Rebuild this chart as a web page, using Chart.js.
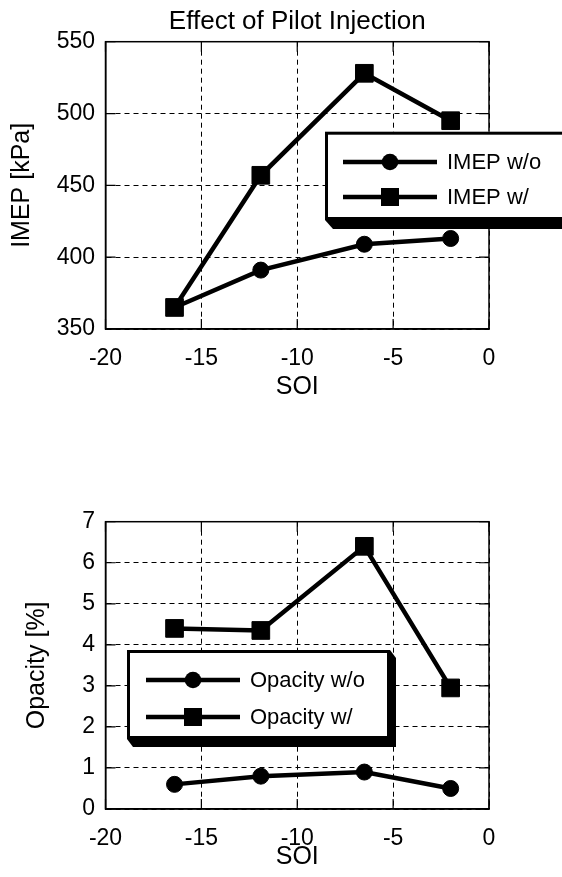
<!DOCTYPE html>
<html><head><meta charset="utf-8">
<script src="https://cdn.jsdelivr.net/npm/chart.js@4/dist/chart.umd.min.js"></script>
<style>
html,body{margin:0;padding:0;background:#fff;}
#wrap{position:relative;width:562px;height:877px;overflow:hidden;}
canvas{position:absolute;left:0;}
</style></head><body>
<div id="wrap">
<canvas id="c1" width="562" height="440" style="top:0px"></canvas>
<canvas id="c2" width="562" height="437" style="top:440px"></canvas>
</div>
<script>
// ---- data ----
const soi = [-16.4, -11.9, -6.5, -2.0];
const imepWithout = [365, 391, 409, 413];
const imepWith = [365, 457, 528, 495];
const opacityWithout = [0.6, 0.8, 0.9, 0.5];
const opacityWith = [4.4, 4.35, 6.4, 2.95];
const xTicks = [-20, -15, -10, -5, 0];
const imepTicks = [350, 400, 450, 500, 550];
const opacityTicks = [0, 1, 2, 3, 4, 5, 6, 7];
const titleText = 'Effect of Pilot Injection';
const xTitle = 'SOI';
const imepTitle = 'IMEP [kPa]';
const opacityTitle = 'Opacity [%]';
const imepLabels = ['IMEP w/o', 'IMEP w/'];
const opacityLabels = ['Opacity w/o', 'Opacity w/'];

const FONT = '"Liberation Sans", Arial, Helvetica, sans-serif';
Chart.defaults.font.family = FONT;
Chart.defaults.color = '#000';

function pts(xs, ys) { return xs.map((x, i) => ({x: x, y: ys[i]})); }

function ds(label, values, style) {
  return {
    label: label,
    data: pts(soi, values),
    borderColor: '#000',
    backgroundColor: '#000',
    borderWidth: 4.5,
    pointStyle: style,
    pointRadius: style === 'rect' ? 12.5 : 8,
    pointHoverRadius: style === 'rect' ? 12.5 : 8,
    pointBackgroundColor: '#000',
    pointBorderColor: '#000',
    pointBorderWidth: 1,
    tension: 0,
    clip: false
  };
}

const framePlugin = {
  id: 'frame',
  beforeDatasetsDraw(chart) {
    const {ctx, chartArea: a, scales} = chart;
    ctx.save();
    ctx.strokeStyle = '#000';
    ctx.setLineDash([]);
    ctx.lineWidth = 1.5;
    ctx.strokeRect(a.left, a.top, a.right - a.left, a.bottom - a.top);
    ctx.lineWidth = 1.2;
    const L = 10;
    ctx.beginPath();
    scales.x.ticks.forEach(t => {
      const px = scales.x.getPixelForValue(t.value);
      ctx.moveTo(px, a.bottom); ctx.lineTo(px, a.bottom - L);
      ctx.moveTo(px, a.top); ctx.lineTo(px, a.top + L);
    });
    scales.y.ticks.forEach(t => {
      const py = scales.y.getPixelForValue(t.value);
      ctx.moveTo(a.left, py); ctx.lineTo(a.left + L, py);
      ctx.moveTo(a.right, py); ctx.lineTo(a.right - L, py);
    });
    ctx.stroke();
    ctx.restore();
  }
};

const boxLegendPlugin = {
  id: 'boxLegend',
  afterDraw(chart, args, o) {
    const ctx = chart.ctx;
    const b = o.box;
    ctx.save();
    ctx.setLineDash([]);
    // 3D shadow
    ctx.fillStyle = '#000';
    ctx.beginPath();
    ctx.moveTo(b.left, b.bottom);
    ctx.lineTo(b.left + o.dx, b.bottom + o.dy);
    ctx.lineTo(b.right + o.dx, b.bottom + o.dy);
    ctx.lineTo(b.right + o.dx, b.top + o.dy);
    ctx.lineTo(b.right, b.top);
    ctx.closePath();
    ctx.fill();
    // box
    ctx.fillStyle = '#fff';
    ctx.fillRect(b.left, b.top, b.right - b.left, b.bottom - b.top);
    ctx.lineWidth = 3;
    ctx.strokeStyle = '#000';
    ctx.strokeRect(b.left + 1.5, b.top + 1.5, b.right - b.left - 3, b.bottom - b.top - 3);
    // entries
    chart.data.datasets.forEach((d, i) => {
      const y = o.rows[i];
      ctx.lineWidth = 4.5;
      ctx.strokeStyle = d.borderColor;
      ctx.beginPath();
      ctx.moveTo(o.lineX0, y); ctx.lineTo(o.lineX1, y);
      ctx.stroke();
      const mx = (o.lineX0 + o.lineX1) / 2;
      ctx.fillStyle = d.pointBackgroundColor;
      if (d.pointStyle === 'rect') {
        ctx.fillRect(mx - 9, y - 9, 18, 18);
      } else {
        ctx.beginPath(); ctx.arc(mx, y, 8.3, 0, Math.PI * 2); ctx.fill();
      }
      ctx.fillStyle = '#000';
      ctx.font = o.fontSize + 'px ' + FONT;
      ctx.textBaseline = 'middle';
      ctx.textAlign = 'left';
      ctx.fillText(d.label, o.textX, y + 1);
    });
    ctx.restore();
  }
};

function scalesFor(yTicks, yTitle, yTitlePad, xTitlePad, xHeight) {
  return {
    x: {
      type: 'linear',
      min: xTicks[0], max: xTicks[xTicks.length - 1],
      afterBuildTicks: s => { s.ticks = xTicks.map(v => ({value: v})); },
      afterFit: s => { s.height = xHeight; },
      grid: {color: '#000', lineWidth: 1, drawTicks: false},
      border: {display: true, color: '#000', width: 1.5, dash: [5, 4]},
      ticks: {font: {size: 23}, padding: 15.5, color: '#000', maxRotation: 0},
      title: {display: true, text: xTitle, font: {size: 25}, color: '#000', padding: {top: 0, bottom: xTitlePad}}
    },
    y: {
      type: 'linear',
      min: yTicks[0], max: yTicks[yTicks.length - 1],
      afterBuildTicks: s => { s.ticks = yTicks.map(v => ({value: v})); },
      afterFit: s => { s.width = 105.5; },
      grid: {color: '#000', lineWidth: 1, drawTicks: false},
      border: {display: true, color: '#000', width: 1.5, dash: [5, 4]},
      ticks: {font: {size: 23}, padding: 10.5, color: '#000'},
      title: {display: true, text: yTitle, font: {size: 25}, color: '#000', padding: {top: yTitlePad, bottom: 0}}
    }
  };
}

new Chart(document.getElementById('c1'), {
  type: 'line',
  data: {datasets: [ds(imepLabels[0], imepWithout, 'circle'), ds(imepLabels[1], imepWith, 'rect')]},
  options: {
    responsive: false, animation: false, events: [],
    layout: {padding: {left: 0, right: 73, top: 0, bottom: 0}},
    scales: scalesFor(imepTicks, imepTitle, 7, 38, 111),
    plugins: {
      legend: {display: false},
      tooltip: {enabled: false},
      title: {display: true, fullSize: false, align: 'center', text: titleText, color: '#000',
              font: {size: 26, weight: 'normal'}, padding: {top: 6, bottom: 4.5}},
      boxLegend: {
        box: {left: 325, top: 131.7, right: 600, bottom: 220},
        dx: 8, dy: 9,
        rows: [162, 197], lineX0: 343, lineX1: 437, textX: 447, fontSize: 22
      }
    }
  },
  plugins: [framePlugin, boxLegendPlugin]
});

new Chart(document.getElementById('c2'), {
  type: 'line',
  data: {datasets: [ds(opacityLabels[0], opacityWithout, 'circle'), ds(opacityLabels[1], opacityWith, 'rect')]},
  options: {
    responsive: false, animation: false, events: [],
    layout: {padding: {left: 0, right: 73, top: 81.7, bottom: 0}},
    scales: scalesFor(opacityTicks, opacityTitle, 22, 5, 68),
    plugins: {
      legend: {display: false},
      tooltip: {enabled: false},
      title: {display: false},
      boxLegend: {
        box: {left: 127, top: 210, right: 390, bottom: 299},
        dx: 6, dy: 8,
        rows: [240, 277], lineX0: 146, lineX1: 240, textX: 250, fontSize: 22
      }
    }
  },
  plugins: [framePlugin, boxLegendPlugin]
});
</script>
</body></html>
